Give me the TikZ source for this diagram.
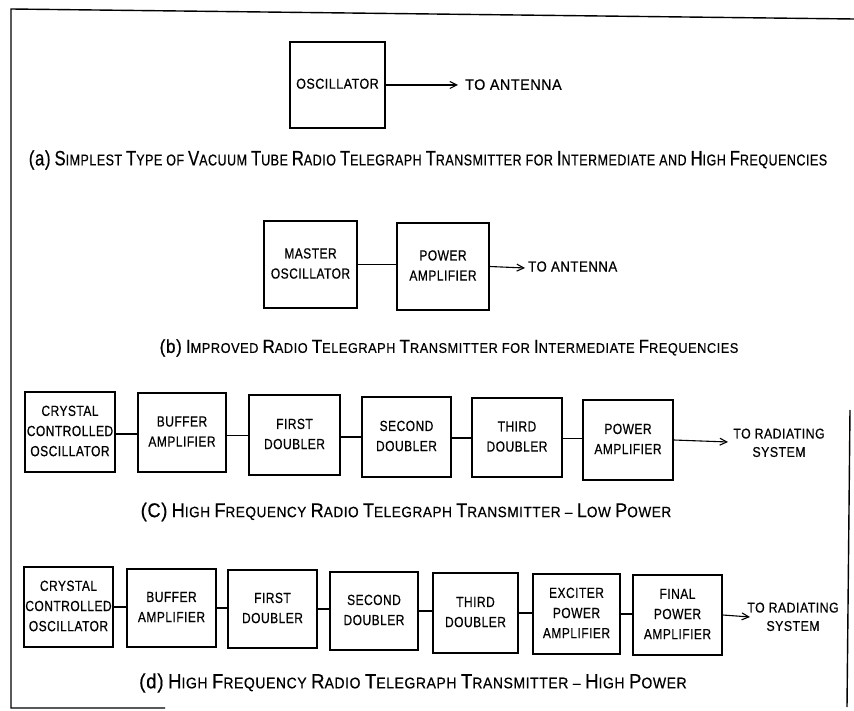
\documentclass[tikz,border=0pt]{standalone}
\usepackage{fontspec}
\usepackage{graphicx}
\setmainfont{Liberation Sans}
\newfontfamily\lab[LetterSpace=4,FakeBold=0.6]{Liberation Sans}
\usetikzlibrary{arrows.meta}
\makeatletter
\newcommand\BL[1]{{\fontsize{\the\dimexpr\f@size pt*4/3\relax}{0pt}\selectfont #1}}
\makeatother
\newcommand\TT[2][1.22]{\scalebox{1}[#1]{\begin{tabular}{@{}c@{}}#2\end{tabular}}}
\newcommand\VS[2]{\scalebox{1}[#1]{#2}}
\begin{document}
\begin{tikzpicture}[x=1pt,y=-1pt,
  blk/.style={draw, line width=1.6pt, inner sep=0pt,
    font=\lab\fontsize{12}{16.5}\selectfont},
  link/.style={line width=1.1pt},
  arr/.style={line width=1.1pt, -{Straight Barb[length=7pt,width=7pt]}},
  lbl/.style={inner sep=0pt, font=\lab\fontsize{12.3}{16}\selectfont},
  captxt/.style={inner sep=0pt},
  frame/.style={line width=1.4pt}]
\useasboundingbox (0,0) rectangle (854,711);
% frame
\coordinate (f1) at (854,19);
\coordinate (f2) at (11,9);
\coordinate (f3) at (11,708);
\coordinate (f4) at (165,708);
\coordinate (f5) at (850,410);
\coordinate (f6) at (847,707);
\draw[frame] (f1) -- (f2) -- (f3) -- (f4);
\draw[frame] (f5) -- (f6);

% (a)
\node[blk, minimum width=95pt, minimum height=86pt, font=\lab\fontsize{12.5}{16}\selectfont] (aosc) at (337.5,85) {\TT[1.15]{OSCILLATOR}};
\coordinate (aend) at (458,85);
\draw[arr] (aosc.east) -- (aend);
\node[lbl, anchor=west, font=\lab\fontsize{14.3}{18}\selectfont] (aant) at (465,86) {\TT[1.05]{TO ANTENNA}};
\node[captxt, font=\lab\fontsize{12.5}{14}\selectfont] (capa) at (428,160) {\VS{1.25}{\BL{(a)} \BL{S}IMPLEST \BL{T}YPE OF \BL{V}ACUUM \BL{T}UBE \BL{R}ADIO \BL{T}ELEGRAPH \BL{T}RANSMITTER FOR \BL{I}NTERMEDIATE AND \BL{H}IGH \BL{F}REQUENCIES}};

% (b)
\node[blk, minimum width=93pt, minimum height=87pt] (bmo) at (310.5,264.5) {\TT{MASTER\\OSCILLATOR}};
\node[blk, minimum width=92pt, minimum height=87pt] (bpa) at (443,266.5) {\TT{POWER\\AMPLIFIER}};
\draw[link] (bmo.east) -- (bmo.east -| bpa.west);
\coordinate (bend) at (525,268);
\draw[arr] (bpa.east) -- (bend);
\node[lbl, anchor=west, font=\lab\fontsize{13.2}{16}\selectfont] (bant) at (528,268) {\TT[1.1]{TO ANTENNA}};
\node[captxt, font=\lab\fontsize{12.8}{14}\selectfont] (capb) at (449,348) {\VS{1.1}{\BL{(b)} \BL{I}MPROVED \BL{R}ADIO \BL{T}ELEGRAPH \BL{T}RANSMITTER FOR \BL{I}NTERMEDIATE \BL{F}REQUENCIES}};

% (c)
\node[blk, minimum width=90pt, minimum height=80pt] (c1) at (70,432) {\TT{CRYSTAL\\CONTROLLED\\OSCILLATOR}};
\node[blk, minimum width=88pt, minimum height=79pt] (c2) at (182,432.5) {\TT{BUFFER\\AMPLIFIER}};
\node[blk, minimum width=91pt, minimum height=80pt] (c3) at (294.5,435) {\TT{FIRST\\DOUBLER}};
\node[blk, minimum width=89pt, minimum height=80pt] (c4) at (406.5,437) {\TT{SECOND\\DOUBLER}};
\node[blk, minimum width=90pt, minimum height=79pt] (c5) at (517,437.5) {\TT{THIRD\\DOUBLER}};
\node[blk, minimum width=90pt, minimum height=80pt] (c6) at (628,440) {\TT{POWER\\AMPLIFIER}};
\draw[link] (c2.west |- c1.east) ++(0,2) coordinate (c12) (c1.east |- c12) -- (c12);
\draw[link] (c2.east) ++(0,3) coordinate (c23) (c23) -- (c3.west |- c23);
\draw[link] (c3.east) ++(0,2) coordinate (c34) (c34) -- (c4.west |- c34);
\draw[link] (c4.east) ++(0,1) coordinate (c45) (c45) -- (c5.west |- c45);
\draw[link] (c5.east) ++(0,1) coordinate (c56) (c56) -- (c6.west |- c56);
\coordinate (cend) at (728,442);
\draw[arr] (c6.east) -- (cend);
\node[lbl] (crad) at (779,444) {\TT[1.15]{TO RADIATING\\SYSTEM}};
\node[captxt, font=\lab\fontsize{13.6}{14}\selectfont] (capc) at (406,512) {\VS{1.1}{\BL{(C)} \BL{H}IGH \BL{F}REQUENCY \BL{R}ADIO \BL{T}ELEGRAPH \BL{T}RANSMITTER – \BL{L}OW \BL{P}OWER}};

% (d)
\node[blk, minimum width=89pt, minimum height=80pt] (d1) at (68.5,607) {\TT{CRYSTAL\\CONTROLLED\\OSCILLATOR}};
\node[blk, minimum width=89pt, minimum height=78pt] (d2) at (171.5,608) {\TT{BUFFER\\AMPLIFIER}};
\node[blk, minimum width=89pt, minimum height=78pt] (d3) at (272.5,609) {\TT{FIRST\\DOUBLER}};
\node[blk, minimum width=88pt, minimum height=78pt] (d4) at (374,611) {\TT{SECOND\\DOUBLER}};
\node[blk, minimum width=85pt, minimum height=80pt] (d5) at (475.5,613) {\TT{THIRD\\DOUBLER}};
\node[blk, minimum width=87pt, minimum height=80pt] (d6) at (576.5,614) {\TT{EXCITER\\POWER\\AMPLIFIER}};
\node[blk, minimum width=89pt, minimum height=80pt] (d7) at (677.5,615) {\TT{FINAL\\POWER\\AMPLIFIER}};
\draw[link] (d1.east) -- (d1.east -| d2.west);
\draw[link] (d2.east) -- (d2.east -| d3.west);
\draw[link] (d3.east) -- (d3.east -| d4.west);
\draw[link] (d4.east) -- (d4.east -| d5.west);
\draw[link] (d5.east) -- (d5.east -| d6.west);
\draw[link] (d6.east) -- (d6.east -| d7.west);
\coordinate (dend) at (750,617);
\draw[arr] (d7.east) -- (dend);
\node[lbl] (drad) at (793,618) {\TT[1.15]{TO RADIATING\\SYSTEM}};
\node[captxt, font=\lab\fontsize{14}{14}\selectfont] (capd) at (413,683) {\VS{1.1}{\BL{(d)} \BL{H}IGH \BL{F}REQUENCY \BL{R}ADIO \BL{T}ELEGRAPH \BL{T}RANSMITTER – \BL{H}IGH \BL{P}OWER}};
\end{tikzpicture}
\end{document}
